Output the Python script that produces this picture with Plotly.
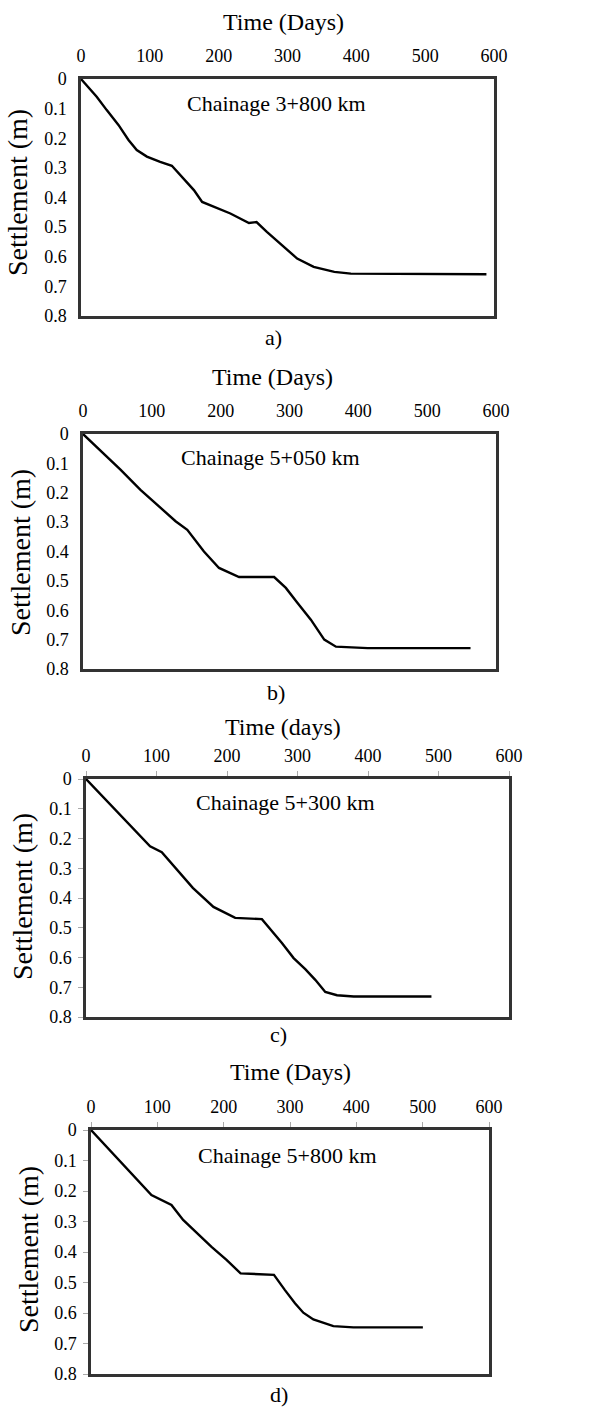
import plotly.graph_objects as go

# ---- data ----
days_a = [0, 22.8, 37.4, 54.4, 69, 81, 95.7, 115, 132, 147, 164, 176, 193, 217, 244, 255, 270, 295, 314, 338, 368, 392, 465, 589]
settle_a = [0, 0.06, 0.105, 0.155, 0.206, 0.24, 0.262, 0.28, 0.293, 0.33, 0.375, 0.415, 0.432, 0.454, 0.486, 0.483, 0.516, 0.567, 0.606, 0.634, 0.651, 0.657, 0.657, 0.659]

days_b = [0, 54.4, 83.5, 112.6, 134.5, 151.5, 175.7, 197.6, 226.7, 277.7, 294.7, 311.7, 331, 350.5, 367.5, 413.6, 563]
settle_b = [0, 0.121, 0.19, 0.252, 0.297, 0.326, 0.4, 0.456, 0.487, 0.487, 0.524, 0.575, 0.632, 0.7, 0.724, 0.729, 0.729]

days_c = [0, 90.9, 107.5, 135.9, 151.5, 180.8, 211.6, 249.5, 277.9, 294.5, 311, 325.2, 339.4, 356, 379.7, 490]
settle_c = [0, 0.226, 0.246, 0.322, 0.366, 0.43, 0.467, 0.471, 0.551, 0.602, 0.639, 0.675, 0.716, 0.727, 0.731, 0.731]

days_d = [0, 91.1, 121.3, 138.9, 181.7, 204.3, 225.5, 254.7, 275.8, 292.4, 307.5, 320.1, 335.2, 365.4, 395.6, 500.3]
settle_d = [0, 0.213, 0.246, 0.295, 0.383, 0.426, 0.47, 0.472, 0.475, 0.525, 0.568, 0.599, 0.621, 0.643, 0.647, 0.647]

chainages = ["Chainage 3+800 km", "Chainage 5+050 km", "Chainage 5+300 km", "Chainage 5+800 km"]
x_titles = ["Time (Days)", "Time (Days)", "Time (days)", "Time (Days)"]
panel_labels = ["a)", "b)", "c)", "d)"]
x_ticks = [0, 100, 200, 300, 400, 500, 600]
y_ticks = [0, 0.1, 0.2, 0.3, 0.4, 0.5, 0.6, 0.7, 0.8]
y_tick_text = ["0", "0.1", "0.2", "0.3", "0.4", "0.5", "0.6", "0.7", "0.8"]

W, H = 595, 1408
# pixel boxes of the four panels: (left, right, top, bottom)
boxes = [(81, 494, 79, 316), (83, 496, 434, 669), (86, 509, 779, 1017), (91, 489, 1130, 1374)]
show_ticks = [False, False, True, True]
# label positions (px)
xt_pos = [(283, 22), (272, 377), (283, 727), (290, 1072)]
ann_pos = [(276, 104), (270, 458), (285, 802), (287, 1155)]
lab_pos = [(273, 337), (276, 692), (278, 1034), (279, 1394)]
yt_pos = [(17, 193), (20, 553), (22, 897), (28, 1250)]

FONT = "Liberation Serif"
series = [(days_a, settle_a), (days_b, settle_b), (days_c, settle_c), (days_d, settle_d)]


def label(x, y, text, size, angle=0):
    fig.add_annotation(x=x / W, y=1 - y / H, xref="paper", yref="paper", text=text,
                       xanchor="center", yanchor="middle", textangle=angle, showarrow=False,
                       font=dict(family=FONT, size=size, color="black"))


fig = go.Figure()
for i, ((xs, ys), (l, r, t, b)) in enumerate(zip(series, boxes)):
    n = "" if i == 0 else str(i + 1)
    fig.add_trace(go.Scatter(x=xs, y=ys, mode="lines", line=dict(color="black", width=2.4),
                             xaxis="x" + n, yaxis="y" + n, showlegend=False, hoverinfo="skip"))
    xd = [l / W, r / W]
    yd = [1 - b / H, 1 - t / H]
    if show_ticks[i]:
        tick_kw = dict(ticks="outside", ticklen=5, tickcolor="#aaaaaa", tickwidth=1)
        so_x, so_y = 2, 3
    else:
        tick_kw = dict(ticks="")
        so_x, so_y = 7, 8
    fig.update_layout(**{
        "xaxis" + n: dict(domain=xd, anchor="y" + n, side="top", range=[0, 600], automargin=False,
                          tickvals=x_ticks, showgrid=False, zeroline=False, ticklabelstandoff=so_x,
                          showline=True, linecolor="#333333", linewidth=2.5, mirror=True,
                          tickfont=dict(family=FONT, size=18, color="black"), **tick_kw),
        "yaxis" + n: dict(domain=yd, anchor="x" + n, range=[0.8, 0], automargin=False,
                          tickvals=y_ticks, ticktext=y_tick_text, showgrid=False, zeroline=False,
                          ticklabelstandoff=so_y,
                          showline=True, linecolor="#333333", linewidth=2.5, mirror=True,
                          tickfont=dict(family=FONT, size=18, color="black"), **tick_kw),
    })
    label(*xt_pos[i], x_titles[i], 24)
    label(*ann_pos[i], chainages[i], 22)
    label(*lab_pos[i], panel_labels[i], 22)
    label(*yt_pos[i], "Settlement (m)", 28, -90)

fig.update_layout(template="none", width=W, height=H, margin=dict(l=0, r=0, t=0, b=0, pad=0),
                  paper_bgcolor="white", plot_bgcolor="white",
                  font=dict(family=FONT, color="black"))
fig.write_html("out.html")
